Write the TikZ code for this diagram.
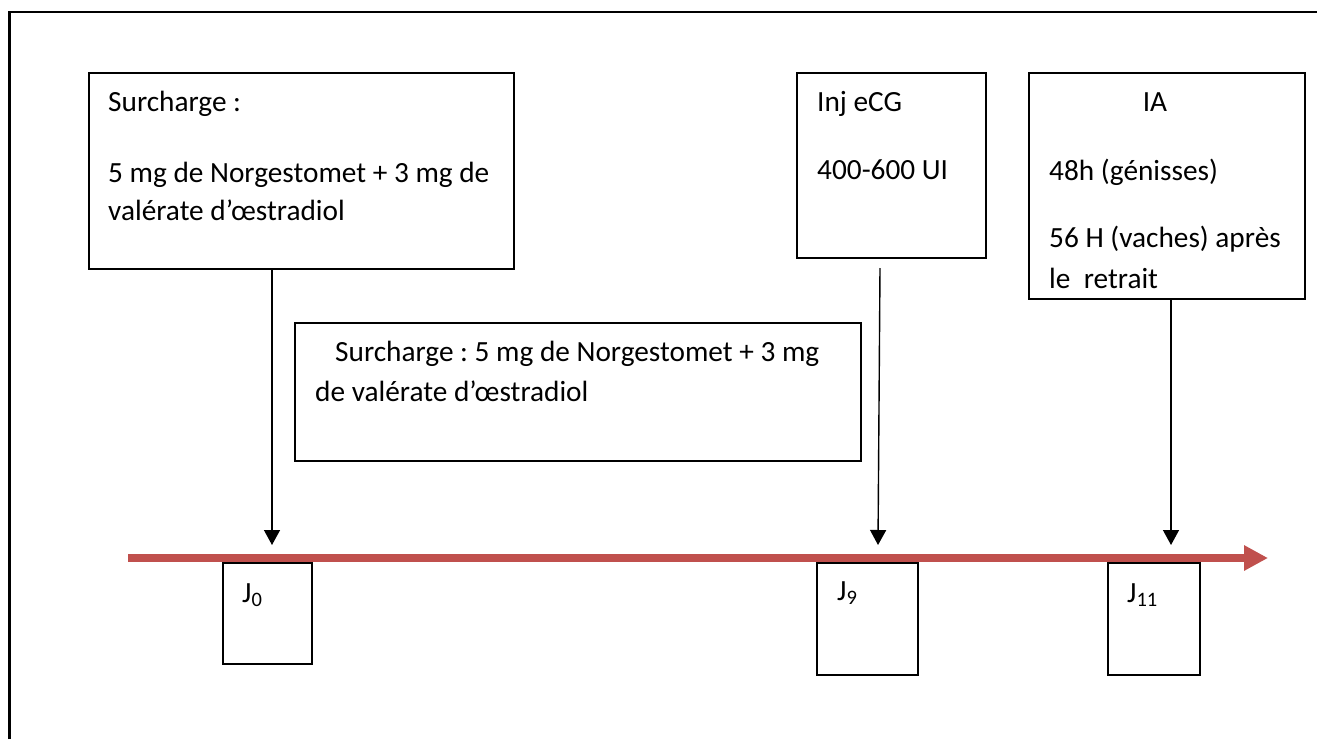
\documentclass[tikz,border=0pt]{standalone}
\usepackage{fontspec}
\setmainfont{Carlito}
\usetikzlibrary{arrows.meta}
\definecolor{rouge}{HTML}{C0504D}
\frenchspacing
\tikzset{
  cadre/.style={draw, line width=1.5pt, anchor=north west, inner sep=0pt},
  txt/.style={anchor=base west, inner sep=0pt, font=\fontsize{29.3}{34}\selectfont},
  fleche/.style={line width=1.4pt, -{Triangle[width=16pt,length=15pt]}},
}

\begin{document}
\begin{tikzpicture}[x=1pt,y=-1pt]
\useasboundingbox (0,0) rectangle (1317,739);
\draw [line width=2.7pt] (9.5,739) -- (9.5,12) -- (1330,12);
%%%%%%%%%
% boites du haut
\node [cadre, minimum width=425pt, minimum height=196pt] (surch) at (88,72) {};
\node [txt] (surchA) at (108,111) {Surcharge :};
\node [txt] (surchB) at (108,182) {5 mg de Norgestomet + 3 mg de};
\node [txt] (surchC) at (108,220) {valérate d’œstradiol};

\node [cadre, minimum width=189pt, minimum height=185pt] (inj) at (796,72) {};
\node [txt] (injA) at (817,111) {Inj eCG};
\node [txt] (injB) at (817,179) {400-600 UI};

\node [cadre, minimum width=276pt, minimum height=226pt] (ia) at (1028,72) {};
\node [txt, anchor=base] (iaA) at (1155,111) {IA};
\node [txt] (iaB) at (1049,180) {48h (génisses)};
\node [txt] (iaC) at (1049,247) {56 H (vaches) après};
\node [txt] (iaD) at (1049,288) {le\ \ retrait};
%%%%%%%%%
% boite du milieu
\node [cadre, minimum width=566pt, minimum height=138pt] (mil) at (294,322) {};
\node [txt] (milA) at (335,361) {Surcharge : 5 mg de Norgestomet + 3 mg};
\node [txt] (milB) at (315,401) {de valérate d’œstradiol};
%%%%%%%%%
% axe du temps
\coordinate (debut) at (128,558);
\coordinate (fin) at (1268,558);
\draw [rouge, line width=8pt, -{Triangle[width=24pt,length=24pt]}] (debut) -- (fin);

\node [cadre, minimum width=89pt, minimum height=101pt] (j0) at (222,562) {};
\node [txt] (j0t) at (242,602) {J\textsubscript{0}};
\node [cadre, minimum width=101pt, minimum height=112pt] (j9) at (816,562) {};
\node [txt] (j9t) at (837,600) {J\textsubscript{9}};
\node [cadre, minimum width=92pt, minimum height=112pt] (j11) at (1107,562) {};
\node [txt] (j11t) at (1127,602) {J\textsubscript{11}};
%%%%%%%%%
% fleches
\coordinate (t0) at (272,545);
\coordinate (d9) at (880,268);
\coordinate (t9) at (878,545);
\coordinate (t11) at (1171,545);
\draw [fleche] (t0 |- surch.south) -- (t0);
\draw [fleche] (d9) -- (t9);
\draw [fleche] (t11 |- ia.south) -- (t11);
\end{tikzpicture}
\end{document}
